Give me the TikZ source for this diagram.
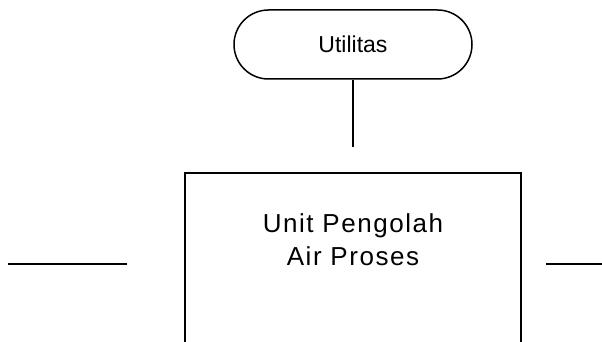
\documentclass[tikz,border=0pt]{standalone}
\usepackage{fontspec}
\setmainfont{Liberation Sans}
\usetikzlibrary{shapes.misc}
\begin{document}
\begin{tikzpicture}[x=1pt,y=-1pt]
\tikzstyle{every node}+=[inner sep=0pt]
\tikzstyle{terminal}=[draw=black, line width=1.5pt, rounded rectangle, minimum width=238pt, minimum height=69pt]
\tikzstyle{process}=[draw=black, line width=1.5pt, rectangle, minimum width=336pt, minimum height=240pt, anchor=north]
\tikzstyle{flow}=[black, line width=1.5pt]
\useasboundingbox (0,0) rectangle (602,342);
\draw (353,44.5) node [terminal] (util) {\fontsize{23}{28}\selectfont Utilitas};
\draw (353,172) node [process] (unit) {};
\draw (353,239.5) node [align=center, font={\fontsize{26}{33}\selectfont\addfontfeature{LetterSpace=6}}] (unittext) {Unit Pengolah\\Air Proses};
\coordinate (utilend) at (353,147);
\coordinate (inA) at (8,264);
\coordinate (inB) at (127,264);
\coordinate (outA) at (546,264);
\coordinate (outB) at (602,264);
\draw [flow] (util.south) -- (utilend);
\draw [flow] (inA) -- (inB);
\draw [flow] (outA) -- (outB);
\end{tikzpicture}
\end{document}
